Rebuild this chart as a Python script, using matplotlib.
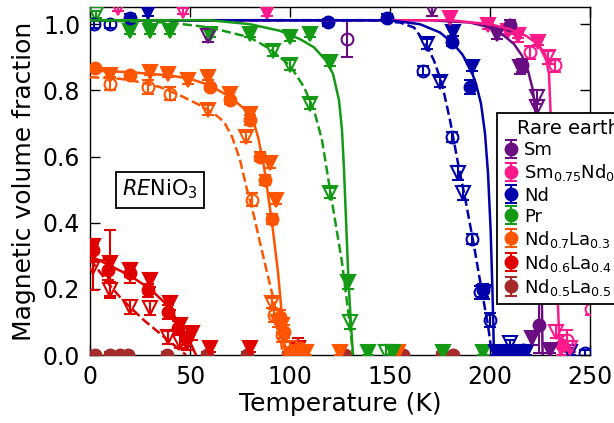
import numpy as np
import matplotlib
matplotlib.use("Agg")
import matplotlib.pyplot as plt

plt.rcParams['font.family'] = ['DejaVu Sans']
plt.rcParams['mathtext.default'] = 'regular'

# ---------------- colours ----------------
c_sm = '#6a0d83'
c_smnd = '#ff1a8c'
c_nd = '#0000aa'
c_pr = '#159a15'
c_ndla3 = '#ff5500'
c_ndla4 = '#e00000'
c_ndla5 = '#a52a2a'

legend_labels = ['Sm', r'Sm$_{0.75}$Nd$_{0.25}$', 'Nd', 'Pr',
                 r'Nd$_{0.7}$La$_{0.3}$', r'Nd$_{0.6}$La$_{0.4}$', r'Nd$_{0.5}$La$_{0.5}$']
legend_colors = [c_sm, c_smnd, c_nd, c_pr, c_ndla3, c_ndla4, c_ndla5]

x_ticks = [0, 50, 100, 150, 200, 250]
y_ticks = [0.0, 0.2, 0.4, 0.6, 0.8, 1.0]

# ---------------- Sm ----------------
sm_fit_T = [0, 170, 190, 200, 207, 212, 216, 219, 221.5, 223, 224, 225, 225.8, 226.3]
sm_fit_f = [1.012, 1.012, 1.005, 0.99, 0.965, 0.94, 0.905, 0.86, 0.8, 0.72, 0.55, 0.38, 0.22, 0.0]
sm_fc_T = [210, 216, 224.5]
sm_fc_f = [0.997, 0.876, 0.09]
sm_fc_e = [0.015, 0.02, 0.085]
sm_ft_T = [203.5, 215, 221, 230]
sm_ft_f = [0.97, 0.87, 0.05, 0.015]
sm_ft_e = [0.015, 0.02, 0.02, 0.01]
sm_oc_T = [128.5]
sm_oc_f = [0.955]
sm_oc_e = [0.055]
sm_ot_T = [59, 171, 223.5, 223.5]
sm_ot_f = [0.965, 1.045, 0.78, 0.75]
sm_ot_e = [0.02, 0.02, 0.02, 0.02]

# ---------------- Sm0.75Nd0.25 ----------------
smnd_fit_T = [0, 180, 200, 210, 218, 224, 227.5, 229.5, 230.5, 231.5, 232.5, 233.5, 234.3, 235]
smnd_fit_f = [1.012, 1.012, 1.0, 0.985, 0.965, 0.94, 0.91, 0.85, 0.7, 0.55, 0.4, 0.22, 0.1, 0.0]
smnd_ft_T = [88.5, 180, 199, 209, 214, 224]
smnd_ft_f = [1.036, 1.02, 0.997, 0.98, 0.967, 0.946]
smnd_ft_e = [0.01, 0.01, 0.01, 0.01, 0.01, 0.01]
smnd_fc_T = [236]
smnd_fc_f = [0.03]
smnd_fc_e = [0.03]
smnd_oc_T = [220, 232.5, 238.5, 250.5]
smnd_oc_f = [0.915, 0.876, 0.045, 0.14]
smnd_oc_e = [0.02, 0.02, 0.03, 0.02]
smnd_ot_T = [14, 46.5, 214, 229, 233, 240]
smnd_ot_f = [1.05, 1.04, 0.967, 0.9, 0.07, 0.02]
smnd_ot_e = [0.01, 0.01, 0.02, 0.02, 0.02, 0.01]

# ---------------- Nd ----------------
nd_fit_T = [0, 150, 165, 175, 181, 186, 190, 193, 195.5, 197.5, 199, 200.3, 201.2, 202]
nd_fit_f = [1.012, 1.012, 1.0, 0.975, 0.945, 0.91, 0.87, 0.82, 0.76, 0.67, 0.55, 0.38, 0.2, 0.0]
nd_dash_T = [0, 140, 155, 162, 168, 172, 176, 180, 184, 188, 192, 196, 199, 201]
nd_dash_f = [1.012, 1.012, 1.005, 0.99, 0.94, 0.89, 0.82, 0.71, 0.58, 0.46, 0.33, 0.19, 0.09, 0.0]
nd_fc_T = [20, 119, 148.5, 181, 190, 196.5, 205, 212]
nd_fc_f = [1.02, 1.006, 1.02, 0.945, 0.81, 0.196, 0.01, 0.01]
nd_fc_e = [0.01, 0.01, 0.01, 0.01, 0.02, 0.02, 0.01, 0.01]
nd_ft_T = [29, 181.5, 191, 203, 210, 218]
nd_ft_f = [1.036, 0.975, 0.87, 0.01, 0.01, 0.01]
nd_ft_e = [0.01, 0.01, 0.01, 0.01, 0.01, 0.01]
nd_oc_T = [2, 10, 166.5, 181, 191, 195, 200, 216.5, 247.5]
nd_oc_f = [1.0, 1.0, 0.86, 0.66, 0.35, 0.19, 0.106, 0.015, 0.005]
nd_oc_e = [0.01, 0.01, 0.015, 0.015, 0.015, 0.02, 0.02, 0.01, 0.01]
nd_ot_T = [168.5, 175, 184, 186.5, 197, 210, 240]
nd_ot_f = [0.94, 0.825, 0.55, 0.49, 0.19, 0.035, 0.01]
nd_ot_e = [0.015, 0.015, 0.02, 0.02, 0.02, 0.01, 0.01]

# ---------------- Pr ----------------
pr_fit_T = [0, 60, 80, 95, 105, 112, 118, 121.5, 124.5, 126, 127, 128, 129.2, 130.3, 131.5]
pr_fit_f = [1.012, 1.012, 1.0, 0.98, 0.955, 0.93, 0.89, 0.85, 0.77, 0.68, 0.56, 0.41, 0.23, 0.11, 0.0]
pr_dash_T = [0, 40, 60, 80, 90, 100, 107, 112, 116, 120, 123, 126, 128.5, 130.5, 131.5]
pr_dash_f = [1.012, 1.005, 0.99, 0.96, 0.925, 0.875, 0.81, 0.74, 0.65, 0.5, 0.39, 0.28, 0.16, 0.06, 0.0]
pr_ft_T = [20, 30, 40, 60, 80, 100, 110, 120, 129, 139, 151.5, 176.5, 196.5]
pr_ft_f = [0.98, 0.98, 0.98, 0.97, 0.97, 0.96, 0.97, 0.885, 0.22, 0.01, 0.01, 0.01, 0.01]
pr_ft_e = [0.01, 0.01, 0.01, 0.01, 0.01, 0.01, 0.01, 0.01, 0.02, 0.01, 0.01, 0.01, 0.01]
pr_ot_T = [3, 91.5, 100, 110, 120, 130, 148]
pr_ot_f = [1.03, 0.92, 0.876, 0.76, 0.49, 0.1, 0.01]
pr_ot_e = [0.01, 0.015, 0.015, 0.015, 0.015, 0.02, 0.02]

# ---------------- Nd0.7La0.3 ----------------
ndla3_fit_T = [0, 20, 40, 50, 60, 70, 77, 81.5, 84, 87, 91, 94, 96, 97.5]
ndla3_fit_f = [0.86, 0.855, 0.845, 0.835, 0.815, 0.78, 0.745, 0.71, 0.66, 0.57, 0.4, 0.25, 0.115, 0.0]
ndla3_dash_T = [0, 15, 25, 35, 45, 55, 62, 67, 71, 75, 78.5, 82, 85, 88.5, 91.5, 94, 96.5]
ndla3_dash_f = [0.84, 0.835, 0.825, 0.81, 0.785, 0.755, 0.73, 0.705, 0.66, 0.59, 0.5, 0.42, 0.34, 0.25, 0.175, 0.1, 0.0]
ndla3_fc_T = [2.5, 20, 60, 70, 80, 85, 87.5, 91, 95, 97, 100]
ndla3_fc_f = [0.867, 0.846, 0.81, 0.77, 0.71, 0.6, 0.53, 0.41, 0.115, 0.07, 0.01]
ndla3_fc_e = [0.01, 0.01, 0.01, 0.01, 0.015, 0.015, 0.015, 0.015, 0.02, 0.02, 0.01]
ndla3_ft_T = [10, 30, 39, 49, 59, 70, 80, 90, 93, 96, 104, 108, 125, 154]
ndla3_ft_f = [0.846, 0.855, 0.85, 0.83, 0.84, 0.79, 0.73, 0.58, 0.47, 0.09, 0.01, 0.01, 0.01, 0.01]
ndla3_ft_e = [0.01, 0.01, 0.01, 0.01, 0.01, 0.01, 0.015, 0.015, 0.015, 0.02, 0.01, 0.01, 0.01, 0.01]
ndla3_oc_T = [10, 29, 40, 81, 92, 96, 105]
ndla3_oc_f = [0.82, 0.81, 0.79, 0.47, 0.12, 0.06, 0.02]
ndla3_oc_e = [0.02, 0.02, 0.02, 0.02, 0.02, 0.02, 0.02]
ndla3_ot_T = [59, 78, 91, 94, 100]
ndla3_ot_f = [0.74, 0.66, 0.157, 0.1, 0.02]
ndla3_ot_e = [0.015, 0.015, 0.015, 0.015, 0.02]

# ---------------- Nd0.6La0.4 ----------------
ndla4_fit_T = [0, 10, 20, 30, 37, 42, 46, 50, 53]
ndla4_fit_f = [0.3, 0.27, 0.24, 0.2, 0.16, 0.12, 0.08, 0.04, 0.0]
ndla4_dash_T = [0, 5, 10, 15, 20, 27, 34, 40, 45, 48]
ndla4_dash_f = [0.29, 0.25, 0.21, 0.175, 0.145, 0.105, 0.07, 0.04, 0.015, 0.0]
ndla4_fc_T = [1.5, 9, 20, 29, 39, 44, 48]
ndla4_fc_f = [0.317, 0.257, 0.247, 0.196, 0.13, 0.082, 0.05]
ndla4_fc_e = [0.035, 0.03, 0.03, 0.02, 0.02, 0.02, 0.02]
ndla4_ft_T = [1.5, 10, 20, 30, 40, 45, 51, 60, 80, 104]
ndla4_ft_f = [0.33, 0.278, 0.257, 0.226, 0.157, 0.09, 0.066, 0.02, 0.02, 0.02]
ndla4_ft_e = [0.02, 0.1, 0.02, 0.02, 0.02, 0.02, 0.02, 0.01, 0.01, 0.03]
ndla4_ot_T = [1.5, 10, 20, 30, 39, 45, 48.5]
ndla4_ot_f = [0.266, 0.196, 0.145, 0.142, 0.054, 0.04, 0.036]
ndla4_ot_e = [0.07, 0.025, 0.02, 0.02, 0.02, 0.02, 0.02]

# ---------------- Nd0.5La0.5 ----------------
ndla5_fc_T = [2.5, 10, 15, 19, 38.5, 58.5, 78.5, 99, 127.5, 156.5, 176, 181.5]
ndla5_fc_f = [0.0, 0.0, 0.0, 0.0, 0.0, 0.0, 0.0, 0.0, 0.0, 0.0, 0.0, 0.0]
ndla5_fc_e = [0.01, 0.01, 0.01, 0.01, 0.01, 0.01, 0.01, 0.01, 0.01, 0.01, 0.01, 0.01]

# ---------------- figure ----------------
fig = plt.figure(figsize=(6.14, 4.23), dpi=100)
ax = fig.add_axes([90/614, 1-355/423, 500/614, 348/423])

fits = [
    (sm_fit_T, sm_fit_f, c_sm, '-'),
    (smnd_fit_T, smnd_fit_f, c_smnd, '-'),
    (nd_fit_T, nd_fit_f, c_nd, '-'),
    (nd_dash_T, nd_dash_f, c_nd, '--'),
    (pr_fit_T, pr_fit_f, c_pr, '-'),
    (pr_dash_T, pr_dash_f, c_pr, '--'),
    (ndla3_fit_T, ndla3_fit_f, c_ndla3, '-'),
    (ndla3_dash_T, ndla3_dash_f, c_ndla3, '--'),
    (ndla4_fit_T, ndla4_fit_f, c_ndla4, '-'),
    (ndla4_dash_T, ndla4_dash_f, c_ndla4, '--'),
]

groups = [
    (ndla5_fc_T, ndla5_fc_f, ndla5_fc_e, c_ndla5, 'o', True),
    (ndla4_fc_T, ndla4_fc_f, ndla4_fc_e, c_ndla4, 'o', True),
    (ndla4_ft_T, ndla4_ft_f, ndla4_ft_e, c_ndla4, 'v', True),
    (ndla4_ot_T, ndla4_ot_f, ndla4_ot_e, c_ndla4, 'v', False),
    (ndla3_fc_T, ndla3_fc_f, ndla3_fc_e, c_ndla3, 'o', True),
    (ndla3_ft_T, ndla3_ft_f, ndla3_ft_e, c_ndla3, 'v', True),
    (ndla3_oc_T, ndla3_oc_f, ndla3_oc_e, c_ndla3, 'o', False),
    (ndla3_ot_T, ndla3_ot_f, ndla3_ot_e, c_ndla3, 'v', False),
    (pr_ft_T, pr_ft_f, pr_ft_e, c_pr, 'v', True),
    (pr_ot_T, pr_ot_f, pr_ot_e, c_pr, 'v', False),
    (nd_fc_T, nd_fc_f, nd_fc_e, c_nd, 'o', True),
    (nd_ft_T, nd_ft_f, nd_ft_e, c_nd, 'v', True),
    (nd_oc_T, nd_oc_f, nd_oc_e, c_nd, 'o', False),
    (nd_ot_T, nd_ot_f, nd_ot_e, c_nd, 'v', False),
    (smnd_fc_T, smnd_fc_f, smnd_fc_e, c_smnd, 'o', True),
    (smnd_ft_T, smnd_ft_f, smnd_ft_e, c_smnd, 'v', True),
    (smnd_oc_T, smnd_oc_f, smnd_oc_e, c_smnd, 'o', False),
    (smnd_ot_T, smnd_ot_f, smnd_ot_e, c_smnd, 'v', False),
    (sm_fc_T, sm_fc_f, sm_fc_e, c_sm, 'o', True),
    (sm_ft_T, sm_ft_f, sm_ft_e, c_sm, 'v', True),
    (sm_oc_T, sm_oc_f, sm_oc_e, c_sm, 'o', False),
    (sm_ot_T, sm_ot_f, sm_ot_e, c_sm, 'v', False),
]

for T, f, e, c, m, filled in groups:
    ax.errorbar(T, f, yerr=e, fmt=m, color=c, ecolor=c,
                ms=(8.5 if m == 'o' else 10),
                mfc=(c if filled else 'none'), mec=c, mew=1.5,
                elinewidth=1.5, capsize=4, capthick=1.5, zorder=3)

for T, f, c, ls in fits:
    ax.plot(T, f, color=c, ls=ls, lw=1.8, zorder=4)

ax.set_xlim(0, 250)
ax.set_ylim(0, 1.052)
ax.set_xticks(x_ticks)
ax.set_yticks(y_ticks)
ax.tick_params(direction='in', top=True, right=True, length=7, width=1, labelsize=17, pad=7)
ax.set_xlabel('Temperature (K)', fontsize=18, labelpad=2)
ax.set_ylabel('Magnetic volume fraction', fontsize=18, labelpad=5)
for s in ax.spines.values():
    s.set_linewidth(1.0)

ax.text(35, 0.50, r'$\mathit{RE}$NiO$_3$', fontsize=15, ha='center', va='center',
        bbox=dict(boxstyle='square,pad=0.3', fc='white', ec='black', lw=1.3), zorder=6)

handles = []
for lab, c in zip(legend_labels, legend_colors):
    h = ax.errorbar([np.nan], [np.nan], yerr=[0.1], fmt='o', color=c, ecolor=c,
                    ms=8.5, mfc=c, mec=c, mew=1.5, elinewidth=1.5,
                    capsize=4, capthick=1.5, label=lab)
    handles.append(h)

leg = fig.legend(handles=handles, labels=legend_labels, title='Rare earth',
                 loc='upper left', bbox_to_anchor=(497/614, 1-113/423),
                 bbox_transform=fig.transFigure, borderaxespad=0,
                 fontsize=13, title_fontsize=14, frameon=True, fancybox=False,
                 edgecolor='black', framealpha=1, labelspacing=0.17,
                 handlelength=0.8, handletextpad=0.35, borderpad=0.35)
leg.get_frame().set_linewidth(1.3)
leg.set_zorder(10)

fig.savefig('out.png', dpi=100)
